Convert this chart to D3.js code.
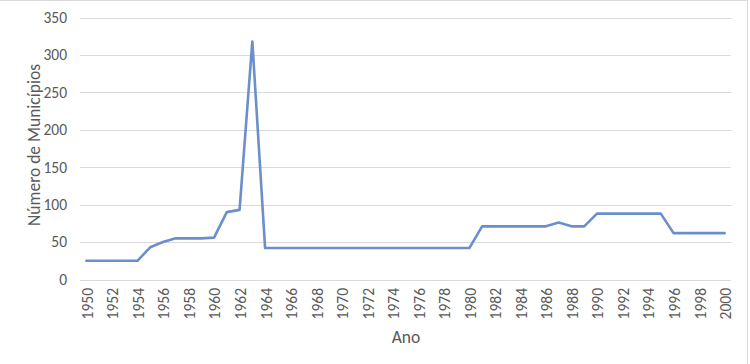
<!DOCTYPE html>
<html><head><meta charset="utf-8">
<script src="https://cdn.jsdelivr.net/npm/d3@7"></script>
<style>body{margin:0;background:#fff;} svg{display:block;font-family:Calibri,Carlito,Lato,"Liberation Sans",sans-serif;}</style>
</head><body>
<svg id="c" width="750" height="364"></svg>
<script>
const years = d3.range(1950, 2001);
const values = [25,25,25,25,25,43,50,55,55,55,56,90,93,318,42,42,42,42,42,42,42,42,42,42,42,42,42,42,42,42,42,71,71,71,71,71,71,76,71,71,88,88,88,88,88,88,62,62,62,62,62];
const yTicks = [0,50,100,150,200,250,300,350];
const xTickLabels = years.filter(y => y % 2 === 0);

const svg = d3.select("#c");
const x = d3.scaleBand().domain(years).range([80, 731]);
const y = d3.scaleLinear().domain([0, 350]).range([279.5, 17.5]);

// chart border
svg.append("line").attr("x1",0).attr("x2",747.5).attr("y1",0.5).attr("y2",0.5).attr("stroke","#d9d9d9");
svg.append("line").attr("x1",747.5).attr("x2",747.5).attr("y1",0).attr("y2",364).attr("stroke","#d9d9d9");

// gridlines
svg.append("g").selectAll("line").data(yTicks).join("line")
  .attr("x1",80).attr("x2",731)
  .attr("y1",d=>Math.round(y(d))+0.5).attr("y2",d=>Math.round(y(d))+0.5)
  .attr("stroke","#d9d9d9").attr("stroke-width",1);

// y labels
svg.append("g").selectAll("text").data(yTicks).join("text")
  .attr("x",67).attr("y",d=>y(d)).attr("dy","0.35em")
  .attr("text-anchor","end").attr("fill","#595959").attr("font-size",15.5)
  .text(d=>d);

// x labels
svg.append("g").selectAll("text").data(xTickLabels).join("text")
  .attr("transform",d=>`translate(${x(d)+x.bandwidth()/2+1},288) rotate(-90)`)
  .attr("dy","0.35em").attr("text-anchor","end")
  .attr("fill","#595959").attr("font-size",15.5)
  .text(d=>d);

// axis titles
svg.append("text").attr("transform","translate(34,145) rotate(-90)")
  .attr("text-anchor","middle").attr("dy","0.35em").attr("fill","#595959").attr("font-size",17.5)
  .text("Número de Municípios");
svg.append("text").attr("x",406).attr("y",337).attr("dy","0.35em")
  .attr("text-anchor","middle").attr("fill","#595959").attr("font-size",17.5)
  .text("Ano");

// line
const line = d3.line().x((d,i)=>x(years[i])+x.bandwidth()/2).y(d=>y(d));
svg.append("path").datum(values).attr("d",line)
  .attr("fill","none").attr("stroke","#6b8fcc").attr("stroke-width",2.6)
  .attr("stroke-linejoin","round").attr("stroke-linecap","round");
</script>
</body></html>
